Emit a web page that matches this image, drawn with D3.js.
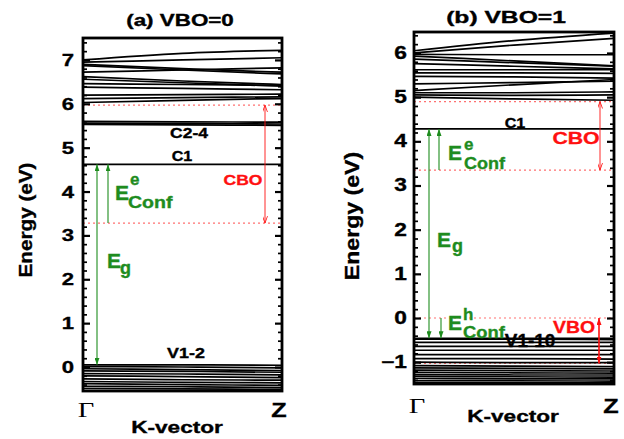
<!DOCTYPE html>
<html>
<head>
<meta charset="utf-8">
<script src="https://cdn.jsdelivr.net/npm/d3@7"></script>
<style>
  body { margin: 0; background: #fff; }
  svg { display: block; }
</style>
</head>
<body>
<div id="chart"></div>
<script>
// k-path and sample points along it (Γ, mid, Z)
const kLabels = ["Γ", "Z"];
const kGrid = [0, 0.5, 1];

// (a) VBO=0 : band energies (eV) at Γ, mid, Z
const condBandsA = [
  [7.00, 7.15, 7.22], [6.95, 7.00, 7.05], [6.90, 6.80, 6.72], [6.87, 6.77, 6.68],
  [6.72, 6.77, 6.82], [6.62, 6.52, 6.44], [6.56, 6.48, 6.40], [6.46, 6.44, 6.42],
  [6.38, 6.35, 6.32], [6.20, 6.21, 6.22], [6.12, 6.14, 6.16], [6.03, 6.08, 6.12],
  [5.60, 5.59, 5.58], [5.56, 5.55, 5.54], [5.53, 5.52, 5.51], [4.62, 4.62, 4.62]
];
const valBandsA = [
  [0.05, 0.05, 0.04], [0.01, 0.00, -0.02], [-0.04, -0.06, -0.08], [-0.09, -0.10, -0.12],
  [-0.15, -0.16, -0.18], [-0.20, -0.22, -0.24], [-0.27, -0.29, -0.30], [-0.33, -0.35, -0.36],
  [-0.38, -0.40, -0.42], [-0.44, -0.45, -0.47], [-0.49, -0.50, -0.51]
];
const cbmA = 4.62, vbmA = 0.05;
const refLinesA = [5.97, 3.28];          // red dotted reference levels
const cboA = [3.28, 5.97];

// (b) VBO=1
const condBandsB = [
  [6.05, 6.28, 6.45], [6.00, 6.18, 6.33], [5.97, 5.96, 5.96], [5.93, 5.82, 5.71],
  [5.86, 5.78, 5.70], [5.76, 5.70, 5.64], [5.62, 5.62, 5.62], [5.55, 5.55, 5.54],
  [5.47, 5.46, 5.43], [5.30, 5.33, 5.36], [5.15, 5.28, 5.40], [5.10, 5.10, 5.12],
  [5.05, 5.04, 5.05], [5.00, 4.96, 4.93], [4.28, 4.28, 4.28]
];
const valBandsB = [
  [-0.46, -0.46, -0.46], [-0.48, -0.48, -0.49], [-0.55, -0.55, -0.55], [-0.64, -0.64, -0.64],
  [-0.73, -0.73, -0.73], [-0.83, -0.83, -0.83], [-0.92, -0.92, -0.93], [-1.00, -1.01, -1.01],
  [-1.08, -1.09, -1.10], [-1.13, -1.14, -1.15], [-1.18, -1.19, -1.20], [-1.23, -1.24, -1.25],
  [-1.28, -1.29, -1.29], [-1.32, -1.33, -1.34], [-1.37, -1.38, -1.38], [-1.42, -1.42, -1.43],
  [-1.46, -1.46, -1.47]
];
const cbmB = 4.28, vbmB = -0.46;
const refLinesB = [4.9, 3.35, 0, -1.03];
const cboB = [3.35, 4.9];
const vboB = [-1.03, 0];

const W = 624, H = 439;
const green = "#1e8c1e", red = "#ff1010";
const sans = "'Liberation Sans', Arial, sans-serif";
const serif = "'Liberation Serif', 'Times New Roman', serif";

const svg = d3.select("#chart").append("svg")
  .attr("width", W).attr("height", H);

const defs = svg.append("defs");
function marker(id, color, filled) {
  defs.append("marker")
    .attr("id", id)
    .attr("viewBox", "0 0 10 10")
    .attr("refX", 10).attr("refY", 5)
    .attr("markerUnits", "userSpaceOnUse")
    .attr("markerWidth", 7).attr("markerHeight", 5)
    .attr("preserveAspectRatio", "none")
    .attr("orient", "auto-start-reverse")
    .append("path")
      .attr("d", filled ? "M0,0L10,5L0,10Z" : "M0,0L10,5L0,10")
      .attr("fill", filled ? color : "none")
      .attr("stroke", color)
      .attr("stroke-width", filled ? 0 : 1.5);
}
marker("gHead", green, true);
marker("rHead", red, false);
marker("rHeadF", red, true);

// text helper: horizontally stretched text like the original figure
function txt(g, x, y, s, o = {}) {
  return g.append("text")
    .attr("transform", `translate(${x},${y}) scale(${o.sx || 1},1)`)
    .attr("text-anchor", o.anchor || "start")
    .attr("font-family", o.family || sans)
    .attr("font-weight", o.weight || "bold")
    .attr("font-size", o.size || 14)
    .attr("fill", o.fill || "#000")
    .attr("stroke", o.weight === "normal" ? null : (o.fill || "#000"))
    .attr("stroke-width", o.weight === "normal" ? null : 0.35)
    .text(s);
}

function drawPanel(p) {
  const g = svg.append("g");
  const y = d3.scaleLinear().domain(p.domain).range([p.bottom, p.top]);
  const x = d3.scaleLinear().domain([0, 1]).range([p.left, p.right]);

  const clipId = "clip-" + p.id;
  defs.append("clipPath").attr("id", clipId)
    .append("rect")
      .attr("x", p.left).attr("y", p.top)
      .attr("width", p.right - p.left).attr("height", p.bottom - p.top);

  const line = d3.line()
    .x((d, i) => x(kGrid[i]))
    .y(d => y(d))
    .curve(d3.curveMonotoneX);

  // red dotted reference levels
  g.append("g").selectAll("line")
    .data(p.refs)
    .join("line")
      .attr("x1", p.left).attr("x2", p.right)
      .attr("y1", d => y(d)).attr("y2", d => y(d))
      .attr("stroke", "#ff7070")
      .attr("stroke-width", 1.2)
      .attr("stroke-dasharray", "2,3");

  // bands
  g.append("g").attr("clip-path", `url(#${clipId})`)
    .selectAll("path")
    .data(p.bands)
    .join("path")
      .attr("d", line)
      .attr("fill", "none")
      .attr("stroke", "#000")
      .attr("stroke-width", 1.7);

  // ticks (major + minor, both sides, pointing inwards)
  const major = d3.range(Math.ceil(p.domain[0]), Math.floor(p.domain[1]) + 1);
  const minor = d3.range(Math.ceil(p.domain[0] * 5), Math.floor(p.domain[1] * 5) + 1)
    .map(v => v / 5).filter(v => Math.abs(v - Math.round(v)) > 1e-6);
  [[d3.axisLeft, p.left], [d3.axisRight, p.right]].forEach(([ax, xp]) => {
    g.append("g").attr("transform", `translate(${xp},0)`)
      .call(ax(y).tickValues(major).tickSizeInner(-7).tickSizeOuter(0).tickFormat(""))
      .call(a => a.select(".domain").remove())
      .selectAll("line").attr("stroke-width", 2.2);
    g.append("g").attr("transform", `translate(${xp},0)`)
      .call(ax(y).tickValues(minor).tickSizeInner(-4).tickSizeOuter(0).tickFormat(""))
      .call(a => a.select(".domain").remove())
      .selectAll("line").attr("stroke-width", 1.7);
  });

  // tick labels
  major.forEach(v => {
    txt(g, p.labelX, y(v) + 6, d3.format("d")(v), {anchor: "end", size: p.tickSize, sx: 1.3});
  });

  // frame
  g.append("rect")
    .attr("x", p.left).attr("y", p.top)
    .attr("width", p.right - p.left).attr("height", p.bottom - p.top)
    .attr("fill", "none").attr("stroke", "#000").attr("stroke-width", 2.8);

  // titles and axis labels
  txt(g, p.titleX, p.titleY, p.title, {anchor: "middle", size: p.titleSize, sx: p.titleSx});
  txt(g, x(0) + 3, p.kY, kLabels[0], {anchor: "middle", family: serif, weight: "normal", size: 22, sx: 1.3});
  txt(g, x(1) - 3, p.kY, kLabels[1], {anchor: "middle", size: 21, sx: 1.2});
  txt(g, p.kvX, p.kvY, "K-vector", {anchor: "middle", size: 16.5, sx: 1.37});
  g.append("text")
    .attr("transform", `translate(${p.eX},${p.eY}) rotate(-90) scale(${p.eSx},1)`)
    .attr("text-anchor", "middle")
    .attr("dominant-baseline", "central")
    .attr("font-family", sans).attr("font-weight", "bold")
    .attr("font-size", p.eSize)
    .attr("stroke", "#000").attr("stroke-width", 0.35)
    .text("Energy (eV)");

  // arrows
  const arrow = (xp, e1, e2, color, w, start, end) => g.append("line")
    .attr("x1", xp).attr("x2", xp)
    .attr("y1", y(e1)).attr("y2", y(e2))
    .attr("stroke", color).attr("stroke-width", w)
    .attr("marker-start", start ? `url(#${start})` : null)
    .attr("marker-end", end ? `url(#${end})` : null);
  p.arrows.forEach(a => arrow(a.x, a.from, a.to, a.color, a.w, a.start, a.end));

  return {g, y};
}

// ---------- panel (a)
const A = drawPanel({
  id: "a", title: "(a) VBO=0", titleX: 180, titleY: 26, titleSize: 16, titleSx: 1.4,
  left: 83, right: 282, top: 38, bottom: 391, domain: [-0.547, 7.5],
  labelX: 74, tickSize: 17,
  bands: condBandsA.concat(valBandsA), refs: refLinesA,
  kY: 417, kvX: 177, kvY: 433,
  eX: 25, eY: 220, eSize: 19, eSx: 1.09,
  arrows: [
    {x: 97, from: vbmA, to: cbmA, color: green, w: 1.1, start: "gHead", end: "gHead"},
    {x: 108, from: cboA[0], to: cbmA, color: green, w: 1.1, end: "gHead"},
    {x: 265, from: cboA[0], to: cboA[1], color: red, w: 0.9, start: "rHead", end: "rHead"}
  ]
});
txt(A.g, 189, 138, "C2-4", {anchor: "middle", size: 14, sx: 1.25});
txt(A.g, 182, 161, "C1", {anchor: "middle", size: 14, sx: 1.15});
txt(A.g, 243, 185, "CBO", {anchor: "middle", size: 14, sx: 1.25, fill: red});
txt(A.g, 186, 358, "V1-2", {anchor: "middle", size: 14, sx: 1.28});
txt(A.g, 115, 200, "E", {size: 21, fill: green});
txt(A.g, 130, 185, "e", {size: 17, fill: green});
txt(A.g, 128, 208, "Conf", {size: 17, fill: green, sx: 1.15});
txt(A.g, 107, 268, "E", {size: 21, fill: green});
txt(A.g, 120, 274, "g", {size: 18, fill: green});

// ---------- panel (b)
const B = drawPanel({
  id: "b", title: "(b) VBO=1", titleX: 506, titleY: 23, titleSize: 17, titleSx: 1.45,
  left: 414, right: 614, top: 32, bottom: 384, domain: [-1.494, 6.475],
  labelX: 407, tickSize: 17.5,
  bands: condBandsB.concat(valBandsB), refs: refLinesB,
  kY: 413, kvX: 513, kvY: 422,
  eX: 352, eY: 216, eSize: 21, eSx: 1.1,
  arrows: [
    {x: 429, from: vbmB, to: cbmB, color: green, w: 1.1, start: "gHead", end: "gHead"},
    {x: 439, from: cboB[0], to: cbmB, color: green, w: 1.1, end: "gHead"},
    {x: 441, from: vboB[1], to: vbmB, color: green, w: 1.1, end: "gHead"},
    {x: 600, from: cboB[0], to: cboB[1], color: red, w: 0.9, start: "rHead", end: "rHead"},
    {x: 599, from: vboB[1], to: vboB[0], color: red, w: 1.6, start: "rHeadF", end: "rHeadF"}
  ]
});
txt(B.g, 515, 128, "C1", {anchor: "middle", size: 14, sx: 1.15});
txt(B.g, 576, 144, "CBO", {anchor: "middle", size: 17, sx: 1.25, fill: red});
txt(B.g, 574, 333, "VBO", {anchor: "middle", size: 17, sx: 1.14, fill: red});
txt(B.g, 530, 347, "V1-10", {anchor: "middle", size: 18, sx: 1.05});
txt(B.g, 448, 160, "E", {size: 21, fill: green});
txt(B.g, 464, 150, "e", {size: 17, fill: green});
txt(B.g, 464, 169, "Conf", {size: 17, fill: green, sx: 1.06});
txt(B.g, 437, 247, "E", {size: 21, fill: green});
txt(B.g, 452, 252, "g", {size: 18, fill: green});
txt(B.g, 448, 330, "E", {size: 21, fill: green});
txt(B.g, 463, 320, "h", {size: 17, fill: green});
txt(B.g, 463, 338, "Conf", {size: 17, fill: green, sx: 1.08});
</script>
</body>
</html>
